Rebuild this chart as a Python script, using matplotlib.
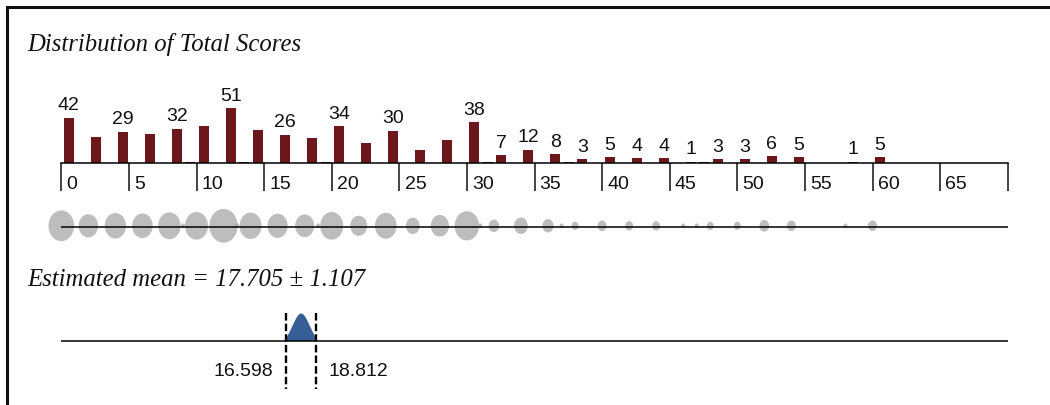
import numpy as np
import matplotlib
matplotlib.use("Agg")
import matplotlib.pyplot as plt
from matplotlib.lines import Line2D
from matplotlib.path import Path
from matplotlib.transforms import Affine2D, ScaledTranslation

# ---------------- data ----------------
scores = [0, 2, 4, 6, 8, 9, 10, 12, 13, 14, 16, 18, 19, 20, 22, 24, 26, 28, 30,
          31, 32, 34, 36, 37, 38, 40, 42, 44, 46, 47, 48, 50, 52, 54, 58, 60]
counts = [42, 24, 29, 27, 32, 1, 34, 51, 1, 31, 26, 23, 1, 34, 18, 30, 12, 21, 38,
          1, 7, 12, 8, 1, 3, 5, 4, 4, 1, 1, 3, 3, 6, 5, 1, 5]
labeled_scores = [0, 4, 8, 12, 16, 20, 24, 30, 32, 34, 36, 38, 40, 42, 44, 46,
                  48, 50, 52, 54, 58, 60]
tick_values = [0, 5, 10, 15, 20, 25, 30, 35, 40, 45, 50, 55, 60, 65, 70]
tick_labels = ["0", "5", "10", "15", "20", "25", "30", "35", "40", "45", "50",
               "55", "60", "65", ""]
mean_value = 17.705
mean_se = 1.107
title_text = "Distribution of Total Scores"

# ---------------- layout ----------------
W, H = 1050, 405
px0, ppu = 61.3, 13.52          # pixel of score 0, pixels per score unit
xlim = (-px0 / ppu, (W - px0) / ppu)
base_y = 162.7                  # histogram baseline (px from top)
px_per_count = 1.067

fig = plt.figure(figsize=(W / 100, H / 100), dpi=100)
fig.patch.set_facecolor("white")

# overlay axes: x in score units, y in pixels from top
ax_px = fig.add_axes([0, 0, 1, 1])
ax_px.set_xlim(xlim)
ax_px.set_ylim(H, 0)
ax_px.axis("off")

# histogram axes
bar_h_px = 64
ax_bar = fig.add_axes([0, 1 - base_y / H, 1, bar_h_px / H])
ax_bar.set_xlim(xlim)
ax_bar.set_ylim(0, bar_h_px / px_per_count)
ax_bar.patch.set_visible(False)
for s in ("top", "right", "left"):
    ax_bar.spines[s].set_visible(False)
ax_bar.spines["bottom"].set_bounds(0, 70)
ax_bar.spines["bottom"].set_linewidth(1.1)
ax_bar.set_yticks([])

sc = np.array(scores, dtype=float)
ct = np.array(counts, dtype=float)
bar_color = "#6c171c"
ax_bar.bar(sc + 0.55, ct, width=0.74, color=bar_color, linewidth=0, zorder=2)

lab_set = set(labeled_scores)
for s_, c_ in zip(scores, counts):
    if s_ in lab_set:
        ax_bar.annotate(str(c_), xy=(s_ + 0.55, c_), xytext=(0, 5.4),
                        textcoords="offset points", ha="center", va="baseline",
                        fontsize=14, family="Liberation Sans", color="#111111",
                        annotation_clip=False)

ax_bar.set_xticks(tick_values, tick_labels)
ax_bar.tick_params(axis="x", direction="out", length=20.2, width=1.1,
                   pad=-1.0, labelsize=14, colors="#111111")
off = ScaledTranslation(5.2 / 100, 0, fig.dpi_scale_trans)
for lbl in ax_bar.get_xticklabels():
    lbl.set_horizontalalignment("left")
    lbl.set_verticalalignment("baseline")
    lbl.set_family("Liberation Sans")
    lbl.set_transform(lbl.get_transform() + off)

# dot strip
dot_line_y = 227.3
ax_px.hlines(dot_line_y, 0, 70, color="black", lw=1.1, zorder=3)
ell = Path.unit_circle().transformed(Affine2D().scale(1 / 1.2, 1.0))
ax_px.scatter(sc, np.full(len(sc), 225.8), s=11.65 * ct, marker=ell,
              color="#a2a2a2", alpha=0.7, linewidths=0, zorder=2)

# title and mean text
fig.text(27 / W, 1 - 50.5 / H, title_text, family="Liberation Serif",
         style="italic", fontsize=17.8, color="#111111", va="baseline")
fig.text(27 / W, 1 - 286 / H,
         f"Estimated mean = {mean_value:.3f} \u00b1 {mean_se:.3f}",
         family="Liberation Serif", style="italic", fontsize=17.8,
         color="#111111", va="baseline")

# mean line with bell
lo, hi = mean_value - mean_se, mean_value + mean_se
mean_line_y = 340.5
ax_px.hlines(mean_line_y, 0, 70, color="black", lw=1.1, zorder=3)
xs = np.linspace(lo, hi, 200)
bell = np.exp(-((xs - mean_value) ** 2) / (2 * (mean_se * 0.5) ** 2))
bell = (bell - bell.min()) / (bell.max() - bell.min()) * 0.93 + 0.07
ax_px.fill_between(xs, mean_line_y, mean_line_y - 27.5 * bell ** 0.8,
                   color="#365f97", linewidth=0, zorder=2)
ax_px.vlines([lo, hi], 312.7, 389, colors="black", lw=1.7,
             linestyles=(0, (3.2, 1.3)), zorder=4)
ax_px.annotate(f"{lo:.3f}", xy=(lo, 376.5), xytext=(-9, 0),
               textcoords="offset points", ha="right", va="baseline",
               fontsize=14, family="Liberation Sans", color="#111111")
ax_px.annotate(f"{hi:.3f}", xy=(hi, 376.5), xytext=(9, 0),
               textcoords="offset points", ha="left", va="baseline",
               fontsize=14, family="Liberation Sans", color="#111111")

# frame (top and left)
fig.add_artist(Line2D([1.0, 7.3 / W, 7.3 / W], [1 - 7.3 / H, 1 - 7.3 / H, 0.0],
                      transform=fig.transFigure, color="#111111", lw=2.2,
                      solid_joinstyle="miter"))

fig.savefig("out.png", dpi=100, facecolor="white")
